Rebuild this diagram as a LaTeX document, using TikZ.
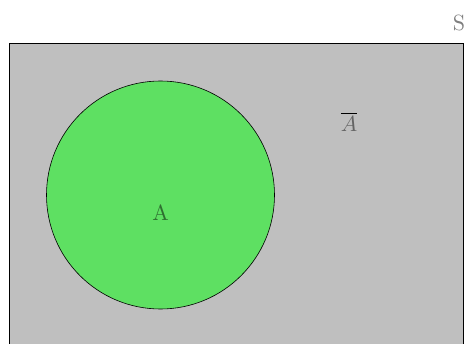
\documentclass[tikz,border=0pt]{standalone}
\begin{document}
\begin{tikzpicture}[x=1pt,y=1pt,
  lbl/.style={text opacity=0.5, scale=2.2, inner sep=0pt}]
\useasboundingbox (0,0) rectangle (470,343);
\clip (0,0) rectangle (470,343);
\definecolor{setgray}{RGB}{191,191,191}
\definecolor{setgreen}{RGB}{94,224,98}
\definecolor{lblgray}{RGB}{100,100,100}
\draw[fill=setgray, line width=0.9pt] (9.5,-20) rectangle (463,300) ;
\node[draw, circle, fill=setgreen, minimum size=228pt, inner sep=0pt, line width=0.6pt] (A) at (160.5,148) {};
\node[lbl, anchor=center] (Alabel) at (160.5,130) {A};
\node[scale=2.2, inner sep=0pt, anchor=center] (Abar) at (349,221) {$\overline{\textcolor{lblgray}{A}}$};
\node[lbl, anchor=center] (S) at (459,320) {S};
\end{tikzpicture}
\end{document}
